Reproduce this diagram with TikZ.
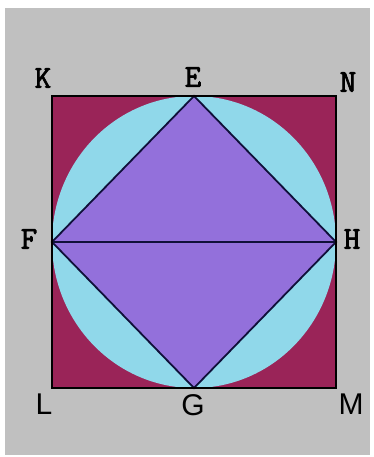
\documentclass[tikz,border=0pt]{standalone}
\usepackage{fontspec}
\newfontfamily\sansf{Liberation Sans}
\newfontfamily\courf{Latin Modern Mono}[FakeBold=2.5]
\definecolor{bggray}{HTML}{C0C0C0}
\definecolor{sqred}{HTML}{9A2458}
\definecolor{circ}{HTML}{90D8EA}
\definecolor{diam}{HTML}{9370DB}
\definecolor{ln}{HTML}{10103A}
\tikzset{
  toplab/.style={font=\courf\fontsize{32}{32}\selectfont, text=black, inner sep=0pt},
  botlab/.style={font=\sansf\fontsize{30}{30}\selectfont, text=black, inner sep=0pt},
  edge/.style={draw=ln, line width=1.8pt}
}
\begin{document}
\begin{tikzpicture}[x=1pt,y=-1pt]
\useasboundingbox (0,0) rectangle (373,457);
\fill[white] (0,0) rectangle (373,457);
\fill[bggray] (5,8) rectangle (370,455);
% points
\coordinate (K) at (52,96);
\coordinate (N) at (336,96);
\coordinate (M) at (336,388);
\coordinate (L) at (52,388);
\coordinate (E) at (194,96);
\coordinate (F) at (52,242);
\coordinate (H) at (336,242);
\coordinate (G) at (194,388);
\coordinate (O) at (194,242);
% square
\fill[sqred] (K) rectangle (M);
% circle
\fill[circ] (O) ellipse [x radius=142, y radius=146];
% diamond
\fill[diam] (E) -- (H) -- (G) -- (F) -- cycle;
\draw[edge] (E) -- (H) -- (G) -- (F) -- cycle;
\draw[edge] (F) -- (H);
\draw[draw=black, line width=2pt] (K) rectangle (M);
% labels
\node[toplab] (lK) at (43,78) {K};
\node[toplab] (lE) at (193,77) {E};
\node[toplab] (lN) at (348,82) {N};
\node[toplab] (lF) at (29,239) {F};
\node[toplab] (lH) at (352,239) {H};
\node[botlab] (lL) at (44,404) {L};
\node[botlab] (lG) at (193,405) {G};
\node[botlab] (lM) at (351,404) {M};
\end{tikzpicture}
\end{document}
